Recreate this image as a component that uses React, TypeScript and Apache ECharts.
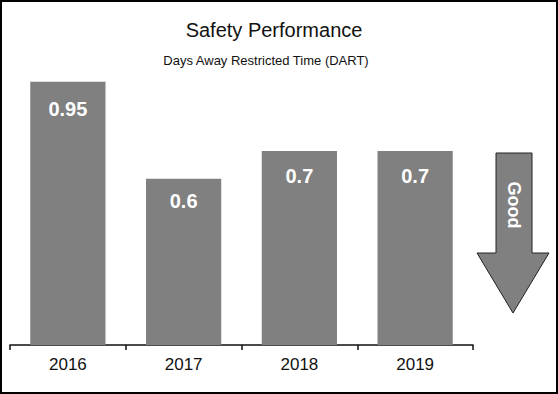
import React, { useEffect, useRef } from "react";
import * as echarts from "echarts";

const categories = ["2016", "2017", "2018", "2019"];
const dartValues = [0.95, 0.6, 0.7, 0.7];
const labelOffsets = [17.5, 12.5, 15, 15];
const titleText = "Safety Performance";
const subtitleText = "Days Away Restricted Time (DART)";
const arrowLabel = "Good";

export default function App() {
  const ref = useRef<HTMLDivElement>(null);
  useEffect(() => {
    document.body.style.margin = "0";
    const chart = echarts.init(ref.current!, null, { renderer: "svg" });
    const font = "Liberation Sans, Arial, sans-serif";
    chart.setOption({
      animation: false,
      backgroundColor: "#fff",
      title: [
        {
          text: titleText,
          left: 269,
          top: 15,
          textAlign: "center",
          textStyle: { fontFamily: font, fontSize: 20, fontWeight: "normal", color: "#111" },
        },
        {
          text: subtitleText,
          left: 261,
          top: 49,
          textAlign: "center",
          textStyle: { fontFamily: font, fontSize: 13, fontWeight: "normal", color: "#111" },
        },
      ],
      grid: { left: 10, right: 85, top: 68, bottom: 49, containLabel: false },
      xAxis: {
        type: "category",
        data: categories,
        axisLine: { lineStyle: { color: "#111", width: 1.5 } },
        axisTick: { show: true, length: 5, lineStyle: { color: "#111", width: 1.5 } },
        axisLabel: { fontFamily: font, fontSize: 17, color: "#111", margin: 11 },
      },
      yAxis: {
        type: "value",
        min: 0,
        max: 1,
        show: false,
        splitLine: { show: false },
      },
      series: [
        {
          type: "bar",
          data: dartValues.map((v, i) => ({
            value: v,
            label: { distance: labelOffsets[i] },
          })),
          barWidth: "65%",
          itemStyle: { color: "#808080" },
          label: {
            show: true,
            position: "insideTop",
            color: "#fff",
            fontFamily: font,
            fontSize: 20,
            fontWeight: "bold",
          },
        },
      ],
      graphic: [
        {
          type: "rect",
          shape: { x: 1, y: 1, width: 556, height: 392 },
          style: { fill: "none", stroke: "#000", lineWidth: 2 },
          silent: true,
        },
        {
          type: "polygon",
          shape: {
            points: [
              [496, 153],
              [532, 153],
              [532, 253],
              [549, 253],
              [513, 313],
              [477, 253],
              [496, 253],
            ],
          },
          style: { fill: "#808080", stroke: "#222", lineWidth: 1 },
        },
        {
          type: "text",
          x: 514,
          y: 205,
          rotation: -Math.PI / 2,
          style: {
            text: arrowLabel,
            fill: "#fff",
            font: "bold 18px Liberation Sans, Arial, sans-serif",
            textAlign: "center",
            textVerticalAlign: "middle",
          },
        },
      ],
    });
    return () => chart.dispose();
  }, []);
  return <div ref={ref} style={{ width: 558, height: 394 }} />;
}
